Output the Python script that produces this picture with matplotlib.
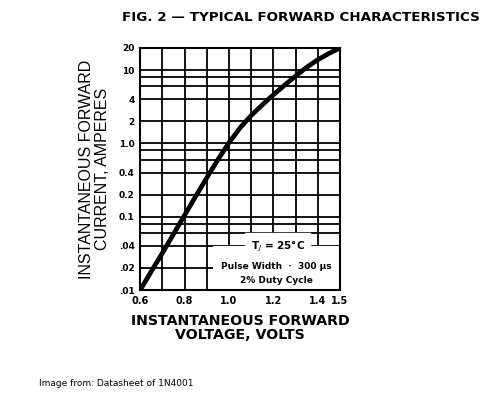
import matplotlib.pyplot as plt
from matplotlib.patches import Rectangle

# forward characteristics of 1N4001
voltage = [0.6, 0.65, 0.7, 0.75, 0.8, 0.85, 0.9, 0.95, 1.0, 1.05, 1.1,
           1.15, 1.2, 1.25, 1.3, 1.35, 1.4, 1.45, 1.5]
current = [0.01, 0.018, 0.032, 0.058, 0.105, 0.19, 0.34, 0.6, 1.02, 1.63, 2.4,
           3.35, 4.6, 6.2, 8.3, 10.9, 13.8, 16.8, 20.0]

x_ticks = [0.6, 0.8, 1.0, 1.2, 1.4, 1.5]
x_tick_labels = ['0.6', '0.8', '1.0', '1.2', '1.4', '1.5']
x_grid = [0.6, 0.7, 0.8, 0.9, 1.0, 1.1, 1.2, 1.3, 1.4, 1.5]
y_ticks = [0.01, 0.02, 0.04, 0.1, 0.2, 0.4, 1.0, 2, 4, 10, 20]
y_tick_labels = ['.01', '.02', '.04', '0.1', '0.2', '0.4', '1.0', '2', '4', '10', '20']
y_grid = [0.01, 0.02, 0.04, 0.06, 0.08, 0.1, 0.2, 0.4, 0.6, 0.8, 1.0, 2, 4, 6, 8, 10, 20]

fig = plt.figure(figsize=(4.92, 3.93), dpi=100)
ax = fig.add_axes([0.285, 0.262, 0.406, 0.616])

for v in x_grid:
    ax.axvline(v, color='black', lw=1.3, zorder=1)
for c in y_grid:
    ax.axhline(c, color='black', lw=1.3, zorder=1)

# white note box in the lower right corner
ax.add_patch(Rectangle((0.93, 0.01), 0.57, 0.03, facecolor='white', edgecolor='none', zorder=2))
ax.text(1.22, 0.04, r'T$_J$ = 25°C', ha='center', va='center', fontsize=7.5, fontweight='bold',
        backgroundcolor='white', zorder=3)
ax.text(1.215, 0.021, 'Pulse Width  ·  300 µs', ha='center', va='center', fontsize=6.5,
        fontweight='bold', zorder=3)
ax.text(1.215, 0.0135, '2% Duty Cycle', ha='center', va='center', fontsize=6.5,
        fontweight='bold', zorder=3)

ax.plot(voltage, current, color='black', lw=3.4, zorder=4, solid_capstyle='butt')

ax.set_yscale('log')
ax.set_xlim(0.6, 1.5)
ax.set_ylim(0.01, 20)
ax.set_xticks(x_ticks)
ax.set_xticklabels(x_tick_labels, fontweight='bold', fontsize=7)
ax.set_yticks(y_ticks)
ax.set_yticklabels(y_tick_labels, fontweight='bold', fontsize=6.5)
ax.minorticks_off()
ax.tick_params(length=0, pad=4)
for s in ax.spines.values():
    s.set_linewidth(1.5)

ax.set_xlabel('INSTANTANEOUS FORWARD\nVOLTAGE, VOLTS', fontsize=10.2, fontweight='bold',
              linespacing=1.0, labelpad=6)
ax.set_ylabel('INSTANTANEOUS FORWARD\nCURRENT, AMPERES', fontsize=11.5, family='Liberation Sans',
              fontweight='medium', linespacing=1.1, labelpad=6)

fig.text(0.975, 0.955, 'FIG. 2 — TYPICAL FORWARD CHARACTERISTICS', ha='right', va='center',
         fontsize=9.7, fontweight='bold')
fig.text(0.08, 0.025, 'Image from: Datasheet of 1N4001', ha='left', va='center', fontsize=6.5)

fig.savefig('out.png', dpi=100)
